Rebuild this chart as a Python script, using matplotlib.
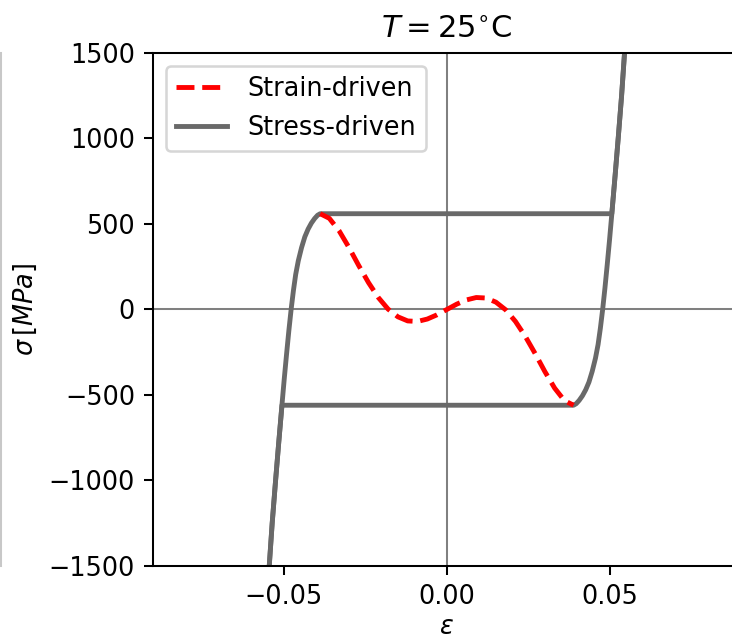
#!/usr/bin/env python3

import numpy as np
import matplotlib
matplotlib.use('Agg')
import matplotlib.pyplot as plt
from matplotlib.lines import Line2D

# strain-driven (red dashed)
strain_eps = [-0.0388, -0.0360, -0.0330, -0.0300, -0.0270, -0.0240, -0.0210,
              -0.0180, -0.0150, -0.0120, -0.0090, -0.0060, -0.0030, 0.0,
              0.0030, 0.0060, 0.0090, 0.0120, 0.0150, 0.0180, 0.0210,
              0.0240, 0.0270, 0.0300, 0.0330, 0.0360, 0.0388]
strain_sig = [560, 533, 460, 363, 257, 157, 70,
              2, -43, -67, -70, -56, -31, 0,
              31, 56, 70, 67, 43, -2, -70,
              -157, -257, -363, -460, -533, -560]

# stress-driven, loading branch (jumps right at the upper plateau)
load_eps = [-0.0544, -0.0535, -0.0525, -0.0515, -0.0505, -0.0498, -0.0491,
            -0.0484, -0.0477, -0.0470, -0.0463, -0.0455, -0.0445, -0.0435,
            -0.0425, -0.0415, -0.0405, -0.0396, -0.0388,
            0.0505, 0.0515, 0.0525, 0.0535, 0.0544]
load_sig = [-1500, -1250, -1010, -780, -557, -405, -262,
            -125, 0, 110, 205, 285, 362, 425,
            470, 505, 532, 551, 560,
            560, 780, 1010, 1250, 1500]

# stress-driven, unloading branch (jumps left at the lower plateau)
unload_eps = [0.0544, 0.0535, 0.0525, 0.0515, 0.0505, 0.0498, 0.0491,
              0.0484, 0.0477, 0.0470, 0.0463, 0.0455, 0.0445, 0.0435,
              0.0425, 0.0415, 0.0405, 0.0396, 0.0388,
              -0.0505, -0.0515, -0.0525, -0.0535, -0.0544]
unload_sig = [1500, 1250, 1010, 780, 557, 405, 262,
              125, 0, -110, -205, -285, -362, -425,
              -470, -505, -532, -551, -560,
              -560, -780, -1010, -1250, -1500]

plt.rcParams['mathtext.fontset'] = 'dejavusans'

DPI = 184
fig = plt.figure(figsize=(732 / DPI, 643 / DPI), dpi=DPI)
ax = fig.add_axes([0.209, 0.1198, 0.803, 0.7978])

ax.axhline(0, color='grey', lw=0.8, zorder=1)
ax.axvline(0, color='grey', lw=0.8, zorder=1)

ax.plot(strain_eps, strain_sig, 'r--', lw=1.9, label='Strain-driven', zorder=3)
ax.plot(load_eps, load_sig, color='dimgray', lw=1.9, label='Stress-driven', zorder=2)
ax.plot(unload_eps, unload_sig, color='dimgray', lw=1.9, zorder=2)

ax.set_xlim(-0.09, 0.09)
ax.set_ylim(-1500, 1500)
ax.set_xticks([-0.05, 0.0, 0.05])
ax.set_yticks([-1500, -1000, -500, 0, 500, 1000, 1500])
ax.set_xlabel(r'$\varepsilon$', labelpad=1.5)
ax.set_ylabel(r'$\sigma\,[MPa]$')
ax.set_title(r'$T = 25^{\circ}$C')
ax.legend(loc='upper left')

# edge of the neighbouring panel at the left border
fig.add_artist(Line2D([0.0008, 0.0008], [0.1198, 0.9176], transform=fig.transFigure,
                      color='#c8c8c8', lw=0.8))

fig.savefig('out.png', dpi=DPI)
